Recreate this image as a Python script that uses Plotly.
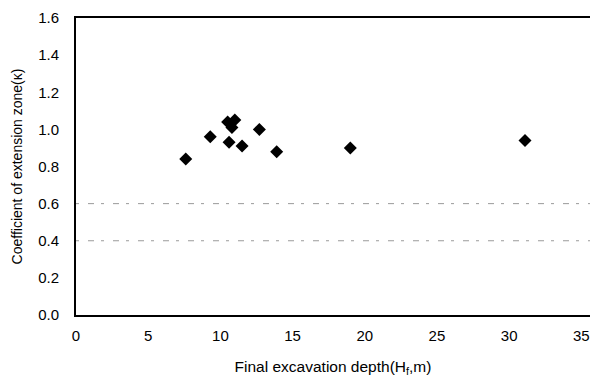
import plotly.graph_objects as go

depth = [7.6, 9.3, 10.5, 11.0, 10.8, 10.6, 11.5, 12.7, 13.9, 19.0, 31.1]
kappa = [0.84, 0.96, 1.04, 1.05, 1.01, 0.93, 0.91, 1.00, 0.88, 0.90, 0.94]
ref_x = [0, 35.6]
upper_ref = [0.6, 0.6]
lower_ref = [0.4, 0.4]
x_ticks = [0, 5, 10, 15, 20, 25, 30, 35]
y_ticks = [0.0, 0.2, 0.4, 0.6, 0.8, 1.0, 1.2, 1.4, 1.6]

fig = go.Figure()
for yy in (upper_ref, lower_ref):
    fig.add_trace(go.Scatter(x=ref_x, y=yy, mode="lines",
                             line=dict(color="#9a9a9a", width=1, dash="3px,9px,6px,7px"),
                             hoverinfo="skip", showlegend=False))
fig.add_trace(go.Scatter(x=depth, y=kappa, mode="markers",
                         marker=dict(symbol="diamond", size=10, color="black"),
                         showlegend=False))

font = dict(family="Liberation Sans, Arial, sans-serif", color="black")
fig.update_layout(
    width=590, height=372,
    margin=dict(l=68, r=8, t=10, b=65),
    plot_bgcolor="white", paper_bgcolor="white",
    font=font,
    xaxis=dict(range=[0, 35.6], tickvals=x_ticks, ticktext=[str(v) for v in x_ticks],
               showgrid=False, zeroline=False, showline=True, mirror=True,
               linecolor="black", linewidth=2, ticks="", tickfont=dict(size=15),
               ticklabelstandoff=6, ticklabeloverflow="allow", automargin=False,
               title=dict(text="Final excavation depth(H<sub>f</sub>,m)", font=dict(size=15.5), standoff=18)),
    yaxis=dict(range=[0, 1.6], tickvals=y_ticks, ticktext=[f"{v:.1f}" for v in y_ticks],
               showgrid=False, zeroline=False, showline=True, mirror=True,
               linecolor="black", linewidth=2, ticks="", tickfont=dict(size=15),
               ticklabelstandoff=12, ticklabeloverflow="allow", automargin=False,
               title=dict(text="Coefficient of extension zone(κ)", font=dict(size=14), standoff=12)),
)
fig.write_html("out.html")
